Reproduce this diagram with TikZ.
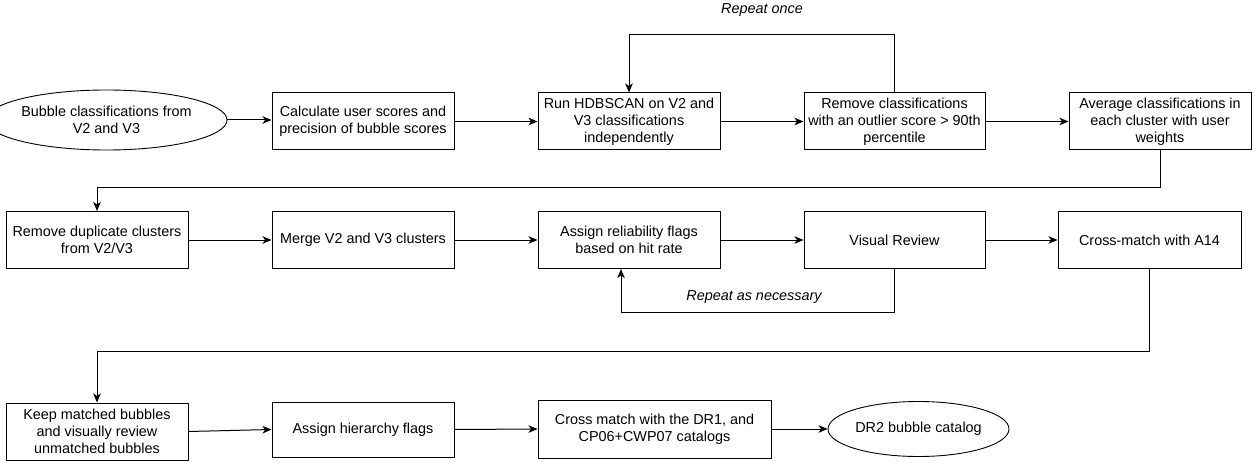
\documentclass[tikz,border=0pt]{standalone}
\usepackage{fontspec}
\setmainfont{Liberation Sans}
\usetikzlibrary{arrows.meta,shapes.geometric}
\begin{document}
\begin{tikzpicture}[x=1pt,y=-1pt,
  every node/.style={font=\fontsize{14.4}{17}\selectfont, text=black},
  box/.style={draw=black, line width=1pt, rectangle, align=center, inner sep=0pt,
    minimum width=182pt, minimum height=57pt},
  oval/.style={draw=black, line width=0.9pt, ellipse, align=center, inner sep=0pt},
  arr/.style={draw=black, line width=1pt, -{Stealth[length=9pt,width=7.5pt,inset=2.5pt]}},
  lbl/.style={font=\fontsize{14.4}{17}\selectfont\itshape}
]
\useasboundingbox (0,0) rectangle (1258,465);
% top row
\node[oval, minimum width=201pt, minimum height=60pt] (e1) at (106.5,120) {Bubble classifications from\\V2 and V3};
\node[box] (calc) at (363,121.5) {Calculate user scores and\\precision of bubble scores};
\node[box] (run) at (629,121.5) {Run HDBSCAN on V2 and\\V3 classifications\\independently};
\node[box, minimum width=181pt] (rem) at (894.5,121.5) {Remove classifications\\with an outlier score > 90th\\percentile};
\node[box] (avg) at (1160,121.5) {Average classifications in\\each cluster with user\\weights};
% middle row
\node[box] (dup) at (97,240) {Remove duplicate clusters\\from V2/V3};
\node[box] (merge) at (363,240) {Merge V2 and V3 clusters};
\node[box] (rel) at (629,240) {Assign reliability flags\\based on hit rate};
\node[box, minimum width=181pt] (vis) at (894.5,240) {Visual Review};
\node[box, minimum width=183pt] (xm) at (1149.5,240) {Cross-match with A14};
% bottom row
\node[box] (keep) at (97,431.5) {Keep matched bubbles\\and visually review\\unmatched bubbles};
\node[box, minimum height=55pt] (hier) at (363,429.5) {Assign hierarchy flags};
\node[box, minimum width=233pt, minimum height=58pt] (cm) at (654.5,429) {Cross match with the DR1, and\\CP06+CWP07 catalogs};
\node[oval, minimum width=181pt, minimum height=55pt] (dr2) at (918.5,429) {DR2 bubble catalog};
% labels
\node[lbl] (rep1) at (762,10) {Repeat once};
\node[lbl] (rep2) at (754,297) {Repeat as necessary};
% connectors
\draw[arr] (e1.east) -- (e1.east -| calc.west);
\draw[arr] (calc.east) -- (run.west);
\draw[arr] (run.east) -- (rem.west);
\draw[arr] (rem.east) -- (avg.west);
\draw[arr] (rem.north) -- ++(0,-58) -| (run.north);
\draw[arr] (avg.south) -- ++(0,37) -| (dup.north);
\draw[arr] (dup.east) -- (merge.west);
\draw[arr] (merge.east) -- (rel.west);
\draw[arr] (rel.east) -- (vis.west);
\draw[arr] (vis.east) -- (xm.west);
\draw[arr] (vis.south) -- ++(0,43) -| ([xshift=-8pt]rel.south);
\draw[arr] (xm.south) -- ++(0,82) -| (keep.north);
\draw[arr] (keep.east) -- (hier.west);
\draw[arr] (hier.east) -- (cm.west);
\draw[arr] (cm.east) -- (dr2.west);
\end{tikzpicture}
\end{document}
